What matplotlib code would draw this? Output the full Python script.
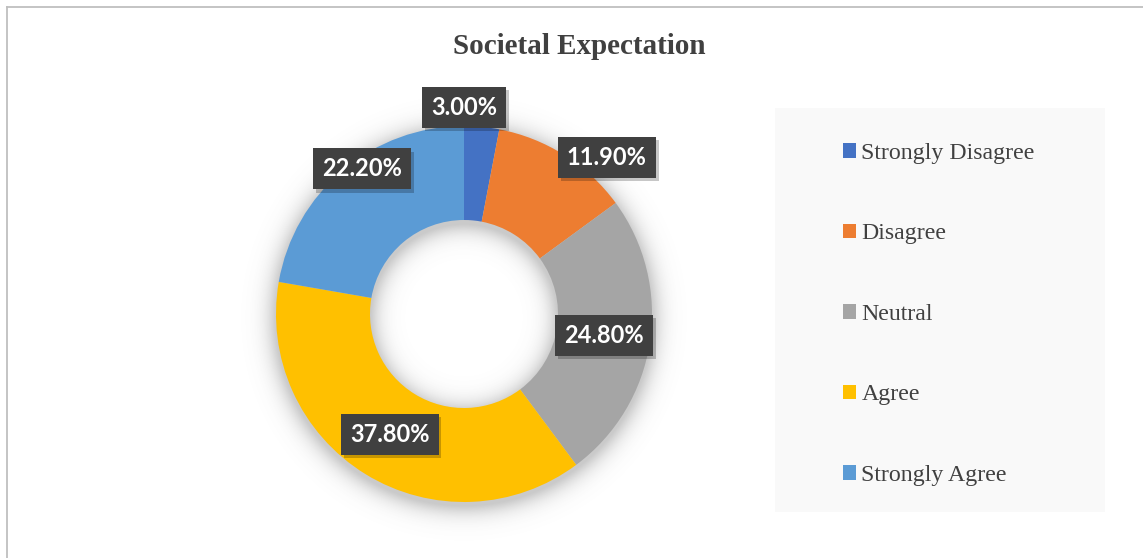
import matplotlib.pyplot as plt
import matplotlib.patheffects as pe
import numpy as np
from matplotlib.patches import Rectangle, Patch
from matplotlib.lines import Line2D

# survey responses (percent)
categories = ["Strongly Disagree", "Disagree", "Neutral", "Agree", "Strongly Agree"]
values = [3.0, 11.9, 24.8, 37.8, 22.2]
colors = ["#4472C4", "#ED7D31", "#A5A5A5", "#FFC000", "#5B9BD5"]

# where each value box sits, relative to the ring centre (ring radius = 1)
label_xy = [(0.0, 1.10), (0.76, 0.833), (0.745, -0.112), (-0.394, -0.64), (-0.543, 0.772)]

W, H = 1143, 558
fig = plt.figure(figsize=(W / 100, H / 100), dpi=100)
fig.patch.set_facecolor("white")

# thin frame along the top and left
fig.add_artist(Line2D([7 / W, 1], [1 - 7 / H, 1 - 7 / H], color="#bfbfbf", lw=1.3))
fig.add_artist(Line2D([7 / W, 7 / W], [0, 1 - 7 / H], color="#bfbfbf", lw=1.3))

fig.text(579 / W, 1 - 46 / H, "Societal Expectation", ha="center", va="center",
         fontsize=21, fontweight="bold", family="Liberation Serif", color="#404040")

# ring axes: 480 px square centred at (464, 314)
cx, cy, half = 464, 314, 240
L = half / 188
ax = fig.add_axes([(cx - half) / W, (H - cy - half) / H, 2 * half / W, 2 * half / H])

# soft drop shadow around the ring
n = 700
g = np.linspace(-L, L, n)
xx, yy = np.meshgrid(g, g)
rr = np.hypot(xx, yy + 0.02)
d = np.maximum(np.maximum(rr - 1.0, 0.5 - rr), 0)
alpha = 0.32 * np.exp(-(d / 0.06) ** 1.3)
shadow = np.zeros((n, n, 4))
shadow[..., :3] = 0.35
shadow[..., 3] = alpha
ax.imshow(shadow, extent=(-L, L, -L, L), origin="lower", zorder=0, interpolation="bilinear")

wedges, _ = ax.pie(values, colors=colors, startangle=90, counterclock=False, radius=1.0,
                   wedgeprops=dict(width=0.5, linewidth=0))
for w in wedges:
    w.set_zorder(2)

# pie() resets the limits, so fix them afterwards
ax.set_xlim(-L, L)
ax.set_ylim(-L, L)
ax.set_aspect("equal")
ax.axis("off")

for v, (lx, ly) in zip(values, label_xy):
    t = ax.text(lx, ly, f"{v:.2f}%", ha="center", va="center", fontsize=17,
                fontweight="bold", family="Lato", color="white", zorder=5,
                bbox=dict(boxstyle="square,pad=0.38", facecolor="#404040",
                          edgecolor="none", linewidth=0))
    t.get_bbox_patch().set_path_effects([
        pe.withSimplePatchShadow(offset=(2, -2.5), shadow_rgbFace="#000000", alpha=0.22),
        pe.Normal()])

# legend panel
fig.add_artist(Rectangle((775 / W, 1 - 512 / H), 330 / W, 404 / H,
                         facecolor="#f9f9f9", edgecolor="none", transform=fig.transFigure, zorder=0))
handles = [Patch(facecolor=c, edgecolor="none") for c in colors]
leg = fig.legend(handles, categories, loc="upper left", bbox_to_anchor=(843 / W, 1 - 143 / H),
                 frameon=False, prop=dict(family="Liberation Serif", size=17.2),
                 handlelength=0.55, handleheight=0.55, handletextpad=0.22,
                 labelspacing=2.49, borderpad=0, borderaxespad=0)
for txt in leg.get_texts():
    txt.set_color("#404040")

fig.savefig("out.png", dpi=100)
